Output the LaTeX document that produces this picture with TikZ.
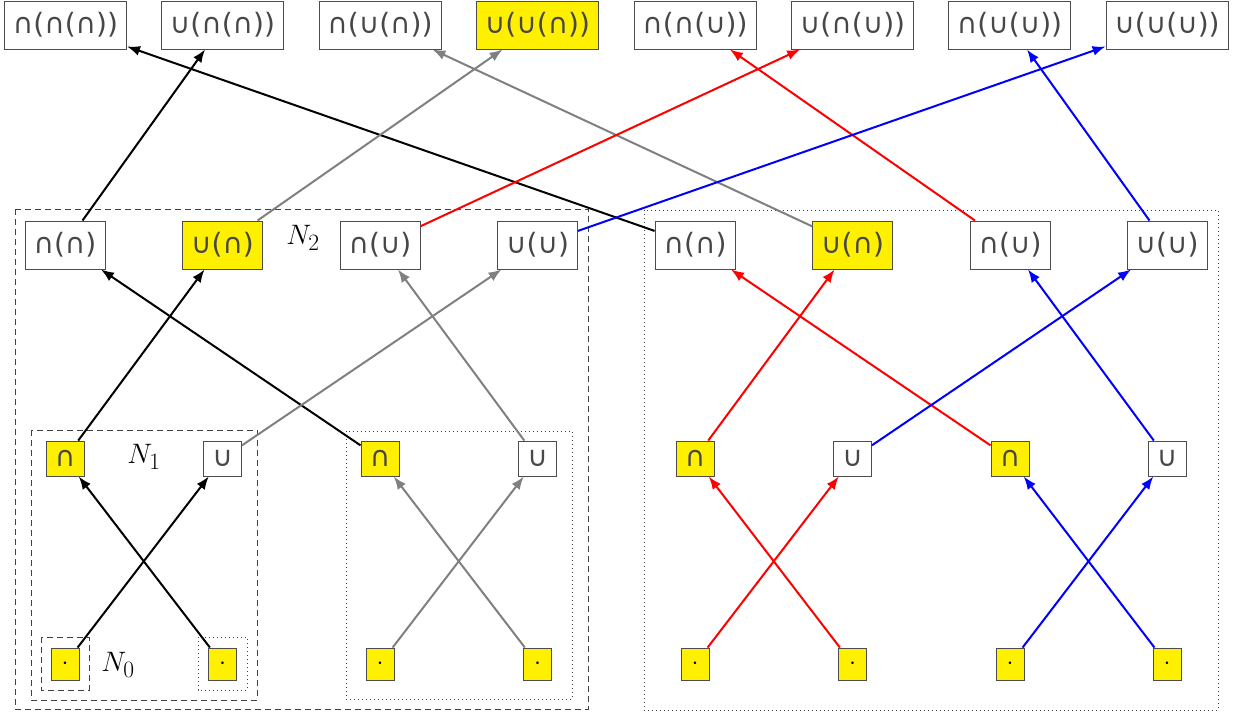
\documentclass[tikz,border=0pt]{standalone}
\usepackage{fontspec}
\newfontfamily\labfont{DejaVu Sans}
\usetikzlibrary{arrows.meta}
\definecolor{hl}{RGB}{255,240,0}
\newcommand{\bigN}[1]{\scalebox{1.13}{\fontsize{24.88}{26}\selectfont$N_{#1}$}}
\begin{document}
\begin{tikzpicture}[x=1pt,y=-1pt,
 box/.style={draw=black!70, line width=0.9pt, inner sep=0pt, font=\labfont\fontsize{28}{28}\selectfont, text=black!72},
 b3/.style={box, minimum width=122pt, minimum height=48pt},
 b2/.style={box, minimum width=80pt, minimum height=48pt},
 b1/.style={box, minimum width=38pt, minimum height=35pt},
 b0/.style={box, minimum width=28pt, minimum height=32pt, fill=hl, text=black, font=\fontsize{24}{24}\selectfont},
 hi/.style={fill=hl},
 conn/.style={line width=2pt, -{Latex[length=13pt,width=10pt]}},
 grpdashed/.style={draw=black!75, line width=0.8pt, dash pattern=on 6pt off 4pt},
 grpdotted/.style={draw=black!75, line width=0.8pt, dash pattern=on 1pt off 3pt},
 nlab/.style={inner sep=0pt}
]
\useasboundingbox (0,0) rectangle (1233,715);

% group frames
\draw[grpdashed] (15,209) rectangle (588,709);
\draw[grpdotted] (644,210) rectangle (1218,710);
\draw[grpdashed] (31,430) rectangle (257,700);
\draw[grpdotted] (346,431) rectangle (572,699);
\draw[grpdashed] (41,637) rectangle (89,690);
\draw[grpdotted] (198,637) rectangle (247,690);

\node[nlab] (n0) at (118,665) {\bigN{0}};
\node[nlab] (n1) at (144,457) {\bigN{1}};
\node[nlab] (n2) at (303,238) {\bigN{2}};

% level 0
\foreach \n/\x in {a/65,b/222.5,c/380,d/537.5,e/695,f/852.5,g/1010,h/1167}
  \node[b0] (l0\n) at (\x,664) {$\cdot$};

% level 1
\node[b1,hi] (l1a) at (65,458.5) {∩};
\node[b1]    (l1b) at (222.5,458.5) {∪};
\node[b1,hi] (l1c) at (380,458.5) {∩};
\node[b1]    (l1d) at (537.5,458.5) {∪};
\node[b1,hi] (l1e) at (695,458.5) {∩};
\node[b1]    (l1f) at (852.5,458.5) {∪};
\node[b1,hi] (l1g) at (1010,458.5) {∩};
\node[b1]    (l1h) at (1167,458.5) {∪};

% level 2
\node[b2]    (l2a) at (65,245) {∩(∩)};
\node[b2,hi] (l2b) at (222.5,245) {∪(∩)};
\node[b2]    (l2c) at (380,245) {∩(∪)};
\node[b2]    (l2d) at (537.5,245) {∪(∪)};
\node[b2]    (l2e) at (695,245) {∩(∩)};
\node[b2,hi] (l2f) at (852.5,245) {∪(∩)};
\node[b2]    (l2g) at (1010,245) {∩(∪)};
\node[b2]    (l2h) at (1167,245) {∪(∪)};

% level 3
\node[b3]    (l3a) at (65.5,25) {∩(∩(∩))};
\node[b3]    (l3b) at (222.5,25) {∪(∩(∩))};
\node[b3]    (l3c) at (380,25) {∩(∪(∩))};
\node[b3,hi] (l3d) at (537.5,25) {∪(∪(∩))};
\node[b3]    (l3e) at (695,25) {∩(∩(∪))};
\node[b3]    (l3f) at (852.5,25) {∪(∩(∪))};
\node[b3]    (l3g) at (1009.5,25) {∩(∪(∪))};
\node[b3]    (l3h) at (1167,25) {∪(∪(∪))};

% level 0 -> 1
\draw[conn,black] (l0a) -- (l1b);
\draw[conn,black] (l0b) -- (l1a);
\draw[conn,gray]  (l0c) -- (l1d);
\draw[conn,gray]  (l0d) -- (l1c);
\draw[conn,red]   (l0e) -- (l1f);
\draw[conn,red]   (l0f) -- (l1e);
\draw[conn,blue]  (l0g) -- (l1h);
\draw[conn,blue]  (l0h) -- (l1g);

% level 1 -> 2
\draw[conn,black] (l1a) -- (l2b);
\draw[conn,black] (l1c) -- (l2a);
\draw[conn,gray]  (l1b) -- (l2d);
\draw[conn,gray]  (l1d) -- (l2c);
\draw[conn,red]   (l1e) -- (l2f);
\draw[conn,red]   (l1g) -- (l2e);
\draw[conn,blue]  (l1f) -- (l2h);
\draw[conn,blue]  (l1h) -- (l2g);

% level 2 -> 3
\draw[conn,black] (l2a) -- (l3b);
\draw[conn,black] (l2e) -- (l3a);
\draw[conn,gray]  (l2b) -- (l3d);
\draw[conn,gray]  (l2f) -- (l3c);
\draw[conn,red]   (l2c) -- (l3f);
\draw[conn,red]   (l2g) -- (l3e);
\draw[conn,blue]  (l2d) -- (l3h);
\draw[conn,blue]  (l2h) -- (l3g);
\end{tikzpicture}
\end{document}
